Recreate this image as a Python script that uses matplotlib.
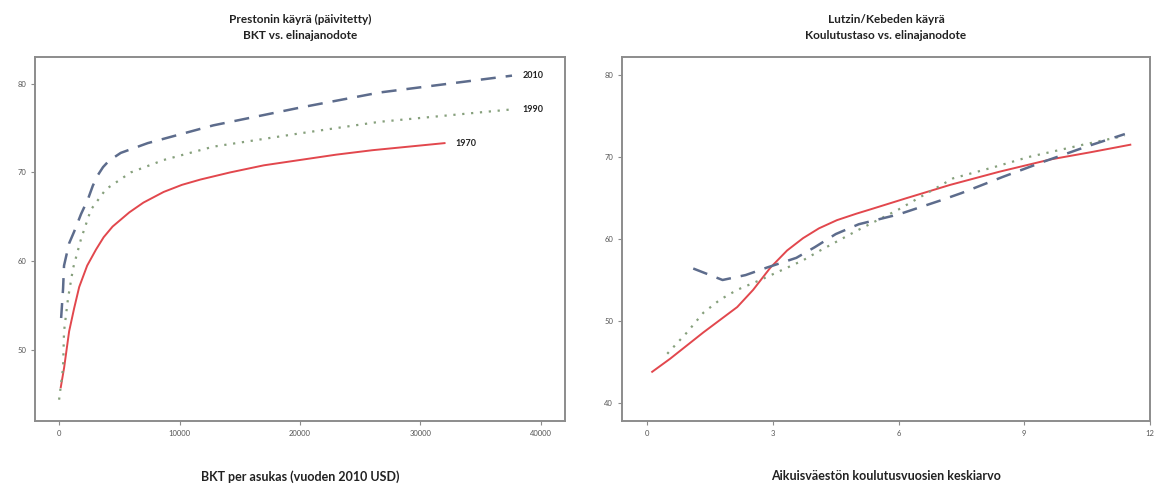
import matplotlib
matplotlib.use("Agg")
import matplotlib.pyplot as plt

plt.rcParams['font.family'] = ['Lato', 'DejaVu Sans']

# ---- Left panel: Preston curve (GDP per capita vs life expectancy) ----
gdp_1970 = [140, 417, 833, 1250, 1670, 2330, 3060, 3700, 4440, 5830, 7000, 8680, 10200, 11740, 14200, 17000, 20000, 23000, 26000, 29000, 32000]
le_1970 = [45.8, 48.0, 52.1, 54.7, 57.1, 59.5, 61.3, 62.7, 63.9, 65.5, 66.6, 67.8, 68.6, 69.2, 70.0, 70.8, 71.4, 72.0, 72.5, 72.9, 73.3]

gdp_1990 = [0, 330, 410, 740, 1160, 1820, 2640, 3880, 5950, 8680, 12800, 20000, 26600, 37600]
le_1990 = [44.4, 48.0, 52.1, 55.8, 59.2, 62.5, 65.8, 68.1, 70.0, 71.4, 72.9, 74.4, 75.7, 77.1]

gdp_2010 = [170, 330, 410, 830, 1240, 1820, 2400, 2800, 3220, 3650, 4130, 5120, 7360, 12800, 20000, 26600, 37600]
le_2010 = [53.6, 56.9, 59.5, 62.0, 63.3, 65.3, 67.0, 68.5, 69.7, 70.6, 71.3, 72.2, 73.3, 75.3, 77.3, 79.0, 80.9]

left_xticks = [0, 10000, 20000, 30000, 40000]
left_yticks = [50, 60, 70, 80]

# ---- Right panel: Lutz/Kebede curve (education vs life expectancy) ----
edu_1970 = [0.12, 0.55, 1.34, 2.15, 2.53, 2.94, 3.34, 3.72, 4.1, 4.53, 5.0, 5.32, 6.2, 7.23, 8.4, 9.62, 10.6, 11.53]
le_edu_1970 = [43.8, 45.4, 48.6, 51.7, 53.8, 56.5, 58.6, 60.1, 61.3, 62.3, 63.1, 63.6, 65.0, 66.6, 68.2, 69.7, 70.6, 71.5]

edu_1990 = [0.48, 0.95, 1.34, 1.74, 2.15, 2.70, 3.34, 3.72, 4.13, 5.0, 6.0, 7.3, 8.3, 9.1, 10.4, 11.4]
le_edu_1990 = [46.0, 48.6, 51.0, 52.6, 53.8, 55.0, 56.5, 57.4, 58.6, 61.0, 63.6, 67.4, 68.8, 70.0, 71.5, 72.6]

edu_2010 = [1.1, 1.5, 1.8, 2.35, 2.85, 3.56, 4.0, 4.5, 5.05, 6.0, 7.0, 7.5, 8.5, 9.5, 10.5, 11.4]
le_edu_2010 = [56.4, 55.6, 55.0, 55.6, 56.5, 57.7, 59.0, 60.6, 61.8, 63.0, 64.7, 65.6, 67.6, 69.5, 71.3, 72.8]

right_xticks = [0, 3, 6, 9, 12]
right_yticks = [40, 50, 60, 70, 80]

years = ["1970", "1990", "2010"]

RED = "#e2474d"
GREEN = "#86a07c"
BLUE = "#5d6c8c"
SPINE = "#8c8c8c"
TEXT = "#222222"

fig = plt.figure(figsize=(11.62, 4.95), dpi=100)
ax1 = fig.add_axes([35/1162, 1-421/495, 530/1162, 364/495])
ax2 = fig.add_axes([622/1162, 1-421/495, 528/1162, 364/495])

def style(ax):
    for s in ax.spines.values():
        s.set_color(SPINE)
        s.set_linewidth(1.4)
    ax.tick_params(axis='both', colors=SPINE, labelcolor="#555555",
                   labelsize=5.5, length=3, width=0.8)

# left
ax1.plot(gdp_1970, le_1970, color=RED, lw=1.4, ls='-')
ax1.plot(gdp_1990, le_1990, color=GREEN, lw=1.6, ls=(0, (1, 3)))
ax1.plot(gdp_2010, le_2010, color=BLUE, lw=1.8, ls=(0, (6, 4)))
for xs, ys, lab in [(gdp_1970, le_1970, years[0]), (gdp_1990, le_1990, years[1]), (gdp_2010, le_2010, years[2])]:
    ax1.text(xs[-1] + 900, ys[-1], lab, fontsize=6.5, color=TEXT,
             ha='left', va='center', fontweight='bold')
ax1.set_xlim(-2000, 42000)
ax1.set_ylim(42, 83)
ax1.set_xticks(left_xticks)
ax1.set_yticks(left_yticks)
style(ax1)
ax1.set_title("Prestonin käyrä (päivitetty)\nBKT vs. elinajanodote",
              fontsize=8.5, fontweight='bold', color=TEXT, pad=13, linespacing=1.6)
ax1.set_xlabel("BKT per asukas (vuoden 2010 USD)", fontsize=9, fontweight='bold',
               color=TEXT, labelpad=24)

# right
ax2.plot(edu_1970, le_edu_1970, color=RED, lw=1.4, ls='-')
ax2.plot(edu_1990, le_edu_1990, color=GREEN, lw=1.6, ls=(0, (1, 3)))
ax2.plot(edu_2010, le_edu_2010, color=BLUE, lw=1.8, ls=(0, (6, 4)))
ax2.set_xlim(-0.6, 12)
ax2.set_ylim(37.8, 82.2)
ax2.set_xticks(right_xticks)
ax2.set_yticks(right_yticks)
style(ax2)
ax2.set_title("Lutzin/Kebeden käyrä\nKoulutustaso vs. elinajanodote",
              fontsize=8.5, fontweight='bold', color=TEXT, pad=13, linespacing=1.6)
ax2.set_xlabel("Aikuisväestön koulutusvuosien keskiarvo", fontsize=9, fontweight='bold',
               color=TEXT, labelpad=24)

fig.savefig("out.png", dpi=100)
